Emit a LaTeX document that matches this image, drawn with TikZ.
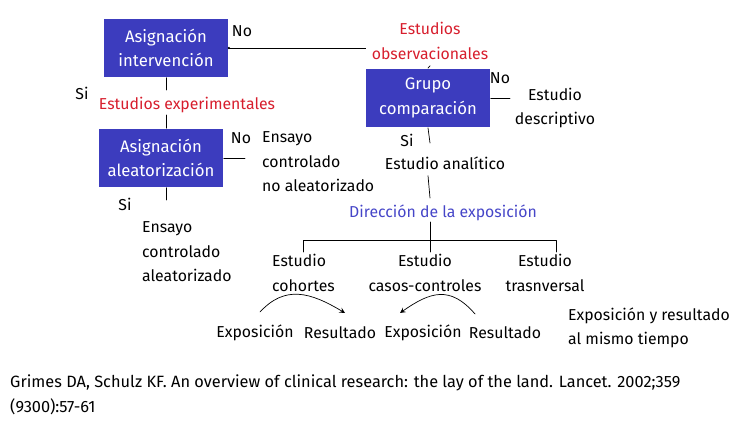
\documentclass[tikz,border=0pt]{standalone}
\usepackage{fontspec}
\setmainfont{Fira Sans}
\usetikzlibrary{arrows}
\definecolor{boxblue}{RGB}{60,60,190}
\definecolor{redtxt}{RGB}{215,30,45}
\definecolor{bluetxt}{RGB}{70,70,200}
\begin{document}
\begin{tikzpicture}
    [x=0.02cm,y=-0.02cm,line cap=round,line join=round,
     font=\fontsize{9}{11}\selectfont,
     box/.style={fill=boxblue,text=white,minimum width=2.5cm,minimum height=1.18cm,align=center,inner sep=1pt,font=\fontsize{9.5}{14}\selectfont},
     lbl/.style={align=left,anchor=west,font=\fontsize{9}{14}\selectfont},
     red/.style={text=redtxt,align=center}]
\useasboundingbox (0,0) rectangle (750,425);
%boxes
\node[box] (asig) at (166,48) {Asignación\\intervención};
\node[box] (grupo) at (428,98) {Grupo\\comparación};
\node[box] (alea) at (161,158) {Asignación\\aleatorización};
%red headings
\node[red,font=\fontsize{9}{14}\selectfont] (obs) at (430,41) {Estudios\\observacionales};
\node[red] (exper) at (187,105) {Estudios experimentales};
\node[text=bluetxt] (dir) at (443,213) {Dirección de la exposición};
%yes / no
\node at (242,31) {No};
\node at (500,78) {No};
\node at (241,138) {No};
\node at (82,93) {Si};
\node at (407,140) {Si};
\node at (125,204) {Si};
%outcomes
\node[align=center,font=\fontsize{9}{14}\selectfont] (desc) at (555,108) {Estudio\\descriptivo};
\node (anal) at (445,163) {Estudio analítico};
\node[lbl] (nonr) at (256,162) {Ensayo\\controlado\\no aleatorizado};
\node[lbl] (rand) at (136,252) {Ensayo\\controlado\\aleatorizado};
\node[lbl] (coh) at (266,273) {Estudio\\cohortes};
\node[align=center,font=\fontsize{9}{14}\selectfont] (cas) at (425,273) {Estudio\\casos-controles};
\node[align=center,font=\fontsize{9}{14}\selectfont] (tra) at (545,273) {Estudio\\trasnversal};
\node (e1) at (255,333) {Exposición};
\node (r1) at (340,333) {Resultado};
\node (e2) at (423,333) {Exposición};
\node (r2) at (505,333) {Resultado};
\node[lbl] (same) at (562,328) {Exposición y resultado\\al mismo tiempo};
\node[lbl,font=\fontsize{9.3}{14}\selectfont] (cite) at (4,395) {Grimes DA, Schulz KF. An overview of clinical research: the lay of the land. Lancet. 2002;359\\(9300):57-61};
%connectors
\draw (obs.west |- asig.east) -- (asig.east);
\fill (asig.east) circle (1.2);
\draw (obs.south) -- (grupo.north);
\draw (grupo.east) -- (510,98);
\draw (grupo.south) -- (430,143);
\draw (anal.south -| grupo.south) -- (430,198);
\draw (asig.south) -- (166,90);
\draw (166,115) -- (alea.north -| asig.south);
\draw (alea.east) -- (245,158);
\draw (alea.south -| asig.south) -- (166,200);
\draw (430,222) -- (430,240);
\draw (303,252) -- (303,240) -- (556,240) -- (556,252);
\draw (430,240) -- (430,252);
\draw[-stealth] (260,312) .. controls (285,285) and (310,292) .. (345,313);
\draw[-stealth] (475,314) .. controls (450,285) and (430,292) .. (400,313);
\end{tikzpicture}
\end{document}
